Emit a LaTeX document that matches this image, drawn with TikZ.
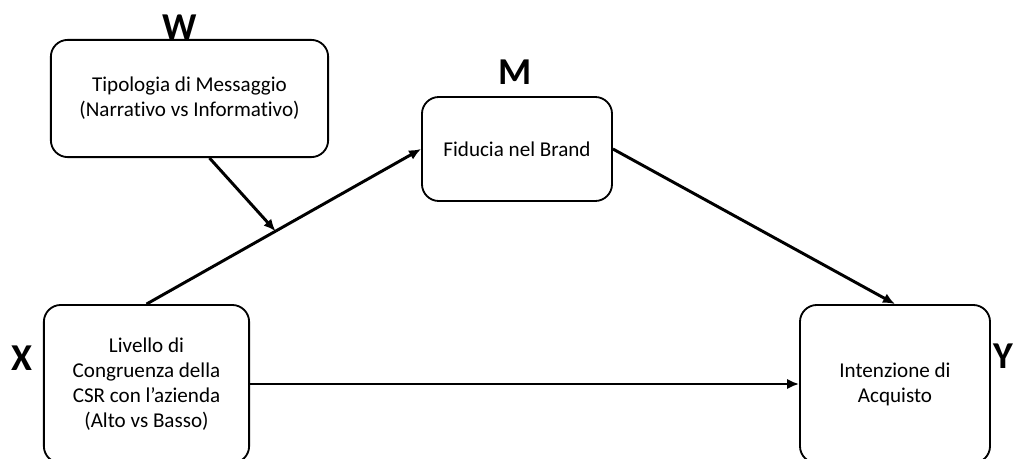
\documentclass[tikz,border=0pt]{standalone}
\usepackage{fontspec}
\setmainfont{Carlito}[Ligatures={NoCommon}]
\usetikzlibrary{arrows.meta}

\begin{document}
\begin{tikzpicture}[
  x=0.025cm,
  y=-0.025cm,
  >=Latex,
  line/.style={draw=black,line width=1.3pt},
  arrow/.style={draw=black,line width=2.1pt,-{Latex[length=3mm,width=2.6mm]}},
  varbox/.style={line,rounded corners=12pt,align=center,font=\fontsize{15}{17.7}\selectfont},
  varlabel/.style={font=\fontsize{27}{32}\selectfont\bfseries,inner sep=0pt}
]

\useasboundingbox (0,0) rectangle (1014,459);

% Variable boxes
\node[varbox,minimum width=6.93cm,minimum height=2.93cm] (tipo) at (189.5,98.5)
  {Tipologia di Messaggio\\(Narrativo vs Informativo)};
\node[varbox,minimum width=4.75cm,minimum height=2.6cm] (fiducia) at (517,149)
  {Fiducia nel Brand};
\node[varbox,minimum width=5.13cm,minimum height=3.95cm] (livello) at (146.5,384)
  {Livello di\\Congruenza della\\CSR con l’azienda\\(Alto vs Basso)};
\node[varbox,minimum width=4.75cm,minimum height=3.95cm] (intenzione) at (895,384)
  {Intenzione di\\Acquisto};

% Letters
\node[varlabel] (w) at (180,27) {W};
\node[varlabel] (m) at (515,72) {M};
\node[varlabel] (x) at (22,358) {X};
\node[varlabel,anchor=east] (y) at (1013,356) {Y};

% Paths
\draw[arrow] (livello.north) -- (fiducia.west)
  coordinate[pos=0.47] (moderazione);
\draw[arrow] ([xshift=0.5cm]tipo.south) -- (moderazione);
\draw[arrow] (fiducia.east) -- (intenzione.north);
\draw[arrow] (livello.east) -- (intenzione.west);

\end{tikzpicture}
\end{document}
